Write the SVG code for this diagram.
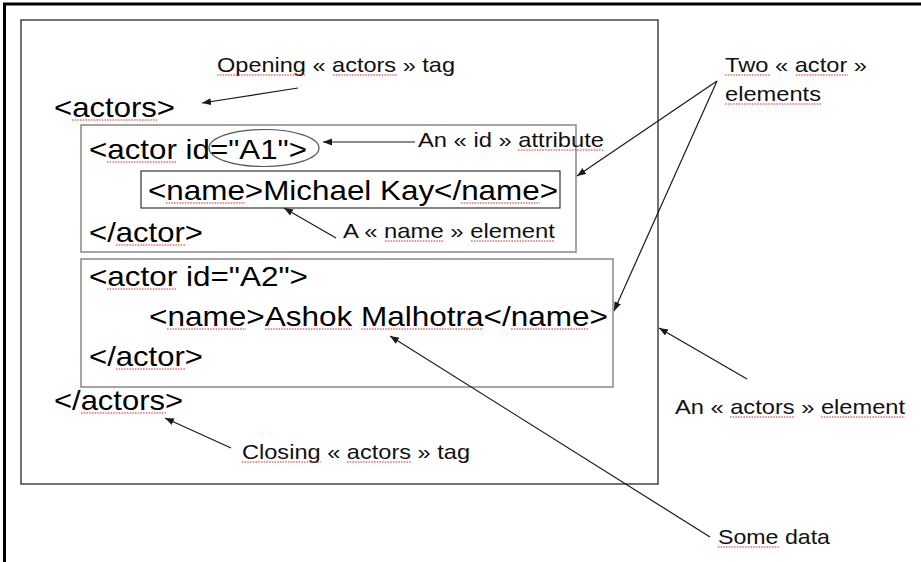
<svg xmlns="http://www.w3.org/2000/svg" width="921" height="562" viewBox="0 0 921 562">
<style>
.code{font-family:"Liberation Sans",Arial,sans-serif;font-size:28px;fill:#000}
.lbl{font-family:"Liberation Sans",Arial,sans-serif;font-size:21px;fill:#111}
.sq{stroke:#e04848;stroke-width:1.3;stroke-dasharray:1.5 1.2;fill:none;opacity:0.8}
.cn{stroke:#1a1a1a;stroke-width:1.2;fill:none;marker-end:url(#ah)}
</style>
<defs>
<marker id="ah" markerUnits="userSpaceOnUse" markerWidth="10" markerHeight="8" refX="9" refY="3.5" orient="auto">
<path d="M0,0 L9,3.5 L0,7 z" fill="#1a1a1a"/>
</marker>
</defs>
<rect width="921" height="562" fill="#fff"/>
<path id="frame" d="M4.5,562 V4 H921" stroke="#000" stroke-width="3" fill="none"/>

<g id="actors-element">
<rect x="21" y="20" width="637" height="464" fill="none" stroke="#444" stroke-width="1.5"/>
<text class="code" x="54" y="117" textLength="121" lengthAdjust="spacingAndGlyphs">&lt;actors&gt;</text>
<text class="code" x="54" y="410" textLength="129" lengthAdjust="spacingAndGlyphs">&lt;/actors&gt;</text>
</g>

<g id="actor1">
<rect x="81" y="125" width="495" height="127" fill="none" stroke="#888" stroke-width="1.5"/>
<text class="code" x="89" y="159" textLength="218" lengthAdjust="spacingAndGlyphs">&lt;actor id="A1"&gt;</text>
<text class="code" x="89" y="242" textLength="114" lengthAdjust="spacingAndGlyphs">&lt;/actor&gt;</text>
</g>
<g id="id-attribute">
<ellipse cx="264" cy="148" rx="55" ry="18.5" fill="none" stroke="#555" stroke-width="1.2"/>
</g>
<g id="name1">
<rect x="141" y="171" width="419" height="37" fill="none" stroke="#333" stroke-width="1.2"/>
<text class="code" x="148" y="200" textLength="410" lengthAdjust="spacingAndGlyphs">&lt;name&gt;Michael Kay&lt;/name&gt;</text>
</g>

<g id="actor2">
<rect x="81" y="259" width="532" height="128" fill="none" stroke="#888" stroke-width="1.5"/>
<text class="code" x="89" y="286" textLength="219" lengthAdjust="spacingAndGlyphs">&lt;actor id="A2"&gt;</text>
<text class="code" x="149" y="326" textLength="459" lengthAdjust="spacingAndGlyphs">&lt;name&gt;Ashok Malhotra&lt;/name&gt;</text>
<text class="code" x="89" y="366" textLength="114" lengthAdjust="spacingAndGlyphs">&lt;/actor&gt;</text>
</g>

<g id="label-opening"><text class="lbl" x="217" y="72" textLength="238" lengthAdjust="spacingAndGlyphs">Opening « actors » tag</text></g>
<g id="label-id"><text class="lbl" x="418" y="147" textLength="186" lengthAdjust="spacingAndGlyphs">An « id » attribute</text></g>
<g id="label-name"><text class="lbl" x="343" y="238" textLength="212" lengthAdjust="spacingAndGlyphs">A « name » element</text></g>
<g id="label-two">
<text class="lbl" x="725" y="72" textLength="142" lengthAdjust="spacingAndGlyphs">Two « actor »</text>
<text class="lbl" x="725" y="101" textLength="96" lengthAdjust="spacingAndGlyphs">elements</text>
</g>
<g id="label-actors"><text class="lbl" x="675" y="414" textLength="230" lengthAdjust="spacingAndGlyphs">An « actors » element</text></g>
<g id="label-data"><text class="lbl" x="718" y="544" textLength="112" lengthAdjust="spacingAndGlyphs">Some data</text></g>
<g id="label-closing"><text class="lbl" x="242" y="459" textLength="228" lengthAdjust="spacingAndGlyphs">Closing « actors » tag</text></g>

<g id="spellcheck">
<path class="sq" d="M72,120H157 M107,162H177 M166,203H245 M461,203H540 M116,245H186 M107,289H177 M167,329H246 M265,329H352 M361,329H483 M511,329H589 M116,369H186 M81,413H166"/>
<path class="sq" d="M217,75H306 M333,75H397 M518,150H603 M385,241H444 M471,241H555 M725,75H770 M796,75H848 M725,104H821 M730,417H795 M821,417H905 M718,547H779 M242,462H321 M347,462H411"/>
</g>

<g id="connectors">
<line class="cn" x1="298" y1="88" x2="202" y2="103"/>
<line class="cn" x1="415" y1="142" x2="323" y2="142"/>
<line class="cn" x1="336" y1="238" x2="284" y2="208"/>
<line class="cn" x1="717" y1="81" x2="577" y2="176"/>
<line class="cn" x1="717" y1="81" x2="614" y2="311"/>
<line class="cn" x1="747" y1="379" x2="659" y2="328"/>
<line class="cn" x1="710" y1="537" x2="390" y2="336"/>
<line class="cn" x1="231" y1="448" x2="165" y2="418"/>
</g>
</svg>
